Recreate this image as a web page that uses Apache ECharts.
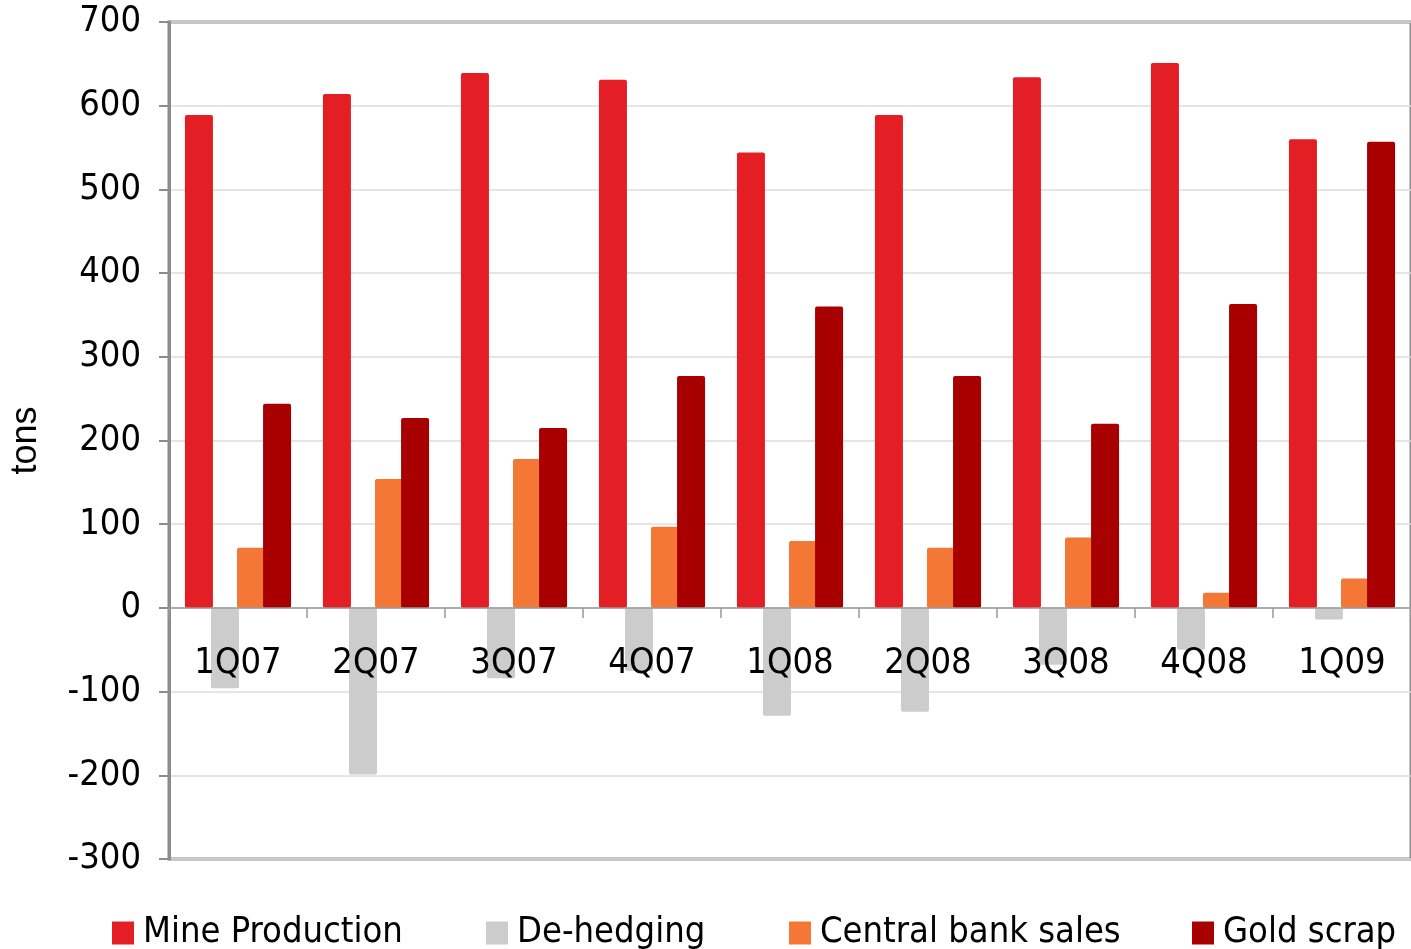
<!DOCTYPE html>
<html><head><meta charset="utf-8">
<script src="https://cdn.jsdelivr.net/npm/echarts@6/dist/echarts.min.js"></script>
<style>html,body{margin:0;padding:0;background:#fff}#c{width:1411px;height:949px}</style>
</head><body><div id="c"></div>
<script>
const categories = ['1Q07','2Q07','3Q07','4Q07','1Q08','2Q08','3Q08','4Q08','1Q09'];
const mineProduction = [589, 614, 639, 631, 544, 589, 634, 651, 560];
const deHedging = [-96, -199, -84, -75, -129, -124, -68, -50, -14];
const centralBankSales = [72, 154, 178, 97, 80, 72, 84, 18, 35];
const goldScrap = [244, 227, 215, 277, 360, 277, 220, 363, 557];
const yTicks = {min: -300, max: 700, interval: 100};

const FONT = "'Liberation Sans Narrow', 'DejaVu Sans Condensed', 'Liberation Sans', sans-serif";
const names = ['Mine Production','De-hedging','Central bank sales','Gold scrap'];
const colors = ['#e31e24','#cccccc','#f47735','#a80000'];
const datas = [mineProduction, deHedging, centralBankSales, goldScrap];
const legendLeft = [107, 481, 784, 1187];

const chart = echarts.init(document.getElementById('c'));
chart.setOption({
  animation: false,
  backgroundColor: '#fff',
  grid: {left: 165, top: 22, right: -14, bottom: 90, show: true, borderColor: '#8c8c8c', borderWidth: 3},
  legend: names.map((n, i) => ({
    data: [n], left: legendLeft[i], top: 910, itemWidth: 22, itemHeight: 23, itemGap: 0,
    textStyle: {fontFamily: FONT, fontSize: 36, color: '#000', padding: [0,0,0,4]},
    icon: 'rect'
  })),
  xAxis: {
    type: 'category', data: categories, z: 10,
    axisLine: {onZero: true, lineStyle: {color: '#999', width: 1.5}},
    axisTick: {show: true, length: 10, lineStyle: {color: '#999', width: 1.5}},
    axisLabel: {fontFamily: FONT, fontSize: 36, color: '#000', margin: -213},
    splitLine: {show: false}
  },
  yAxis: {
    type: 'value', min: yTicks.min, max: yTicks.max, interval: yTicks.interval,
    name: 'tons', nameLocation: 'middle', nameGap: 125, nameRotate: 90,
    nameTextStyle: {fontFamily: "'Liberation Sans', sans-serif", fontSize: 36, color: '#000'},
    axisLine: {show: true, lineStyle: {color: '#8c8c8c', width: 3}},
    axisTick: {show: true, length: 10, lineStyle: {color: '#8c8c8c', width: 2}},
    axisLabel: {fontFamily: FONT, fontSize: 36, color: '#000', margin: 28},
    splitLine: {lineStyle: {color: '#dcdcdc', width: 1.5}}
  },
  series: names.map((n, i) => ({
    name: n, type: 'bar', data: datas[i], barWidth: 28, barGap: '-7%',
    itemStyle: {color: colors[i], borderRadius: 2}
  }))
});
</script></body></html>
